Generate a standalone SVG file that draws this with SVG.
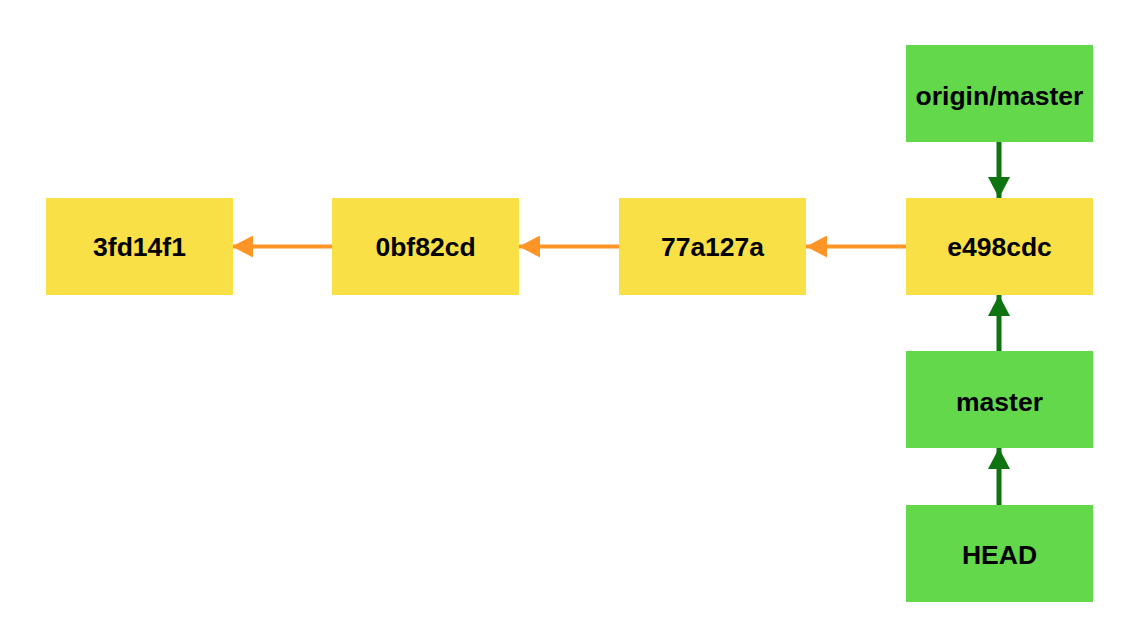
<svg xmlns="http://www.w3.org/2000/svg" width="1142" height="630" viewBox="0 0 1142 630">
<style>
.commit{fill:#F9E046}
.ref{fill:#63D84A}
.lbl{font-family:"Liberation Sans",Arial,sans-serif;font-size:26.5px;font-weight:bold;fill:#000;text-anchor:middle;dominant-baseline:central}
.orange{stroke:#FF9526;stroke-width:4;fill:none}
.green{stroke:#0E7311;stroke-width:5;fill:none}
</style>
<defs>
<marker id="ah-o" markerUnits="userSpaceOnUse" markerWidth="22" markerHeight="22" refX="21" refY="11" orient="auto">
<path d="M0,0 L21,11 L0,22 z" fill="#FF9526"/>
</marker>
<marker id="ah-g" markerUnits="userSpaceOnUse" markerWidth="22" markerHeight="22" refX="21" refY="11" orient="auto">
<path d="M0,0 L21,11 L0,22 z" fill="#0E7311"/>
</marker>
</defs>
<rect width="1142" height="630" fill="#fff"/>
<g id="connectors">
<line class="orange" x1="332" y1="246.5" x2="232" y2="246.5" marker-end="url(#ah-o)"/>
<line class="orange" x1="619" y1="246.5" x2="519" y2="246.5" marker-end="url(#ah-o)"/>
<line class="orange" x1="906" y1="246.5" x2="806" y2="246.5" marker-end="url(#ah-o)"/>
<line class="green" x1="999" y1="142" x2="999" y2="198" marker-end="url(#ah-g)"/>
<line class="green" x1="999" y1="354" x2="999" y2="295" marker-end="url(#ah-g)"/>
<line class="green" x1="999" y1="507" x2="999" y2="448" marker-end="url(#ah-g)"/>
</g>
<g id="n3fd14f1"><rect class="commit" x="46" y="198" width="187" height="97"/><text class="lbl" x="139.5" y="247">3fd14f1</text></g>
<g id="n0bf82cd"><rect class="commit" x="332" y="198" width="187" height="97"/><text class="lbl" x="425.5" y="247">0bf82cd</text></g>
<g id="n77a127a"><rect class="commit" x="619" y="198" width="187" height="97"/><text class="lbl" x="712.5" y="247">77a127a</text></g>
<g id="ne498cdc"><rect class="commit" x="906" y="198" width="187" height="97"/><text class="lbl" x="999.5" y="247">e498cdc</text></g>
<g id="origin-master"><rect class="ref" x="906" y="45" width="187" height="97"/><text class="lbl" x="999.5" y="96">origin/master</text></g>
<g id="master"><rect class="ref" x="906" y="351" width="187" height="97"/><text class="lbl" x="999.5" y="402">master</text></g>
<g id="HEAD"><rect class="ref" x="906" y="505" width="187" height="97"/><text class="lbl" x="999.5" y="555">HEAD</text></g>
</svg>
